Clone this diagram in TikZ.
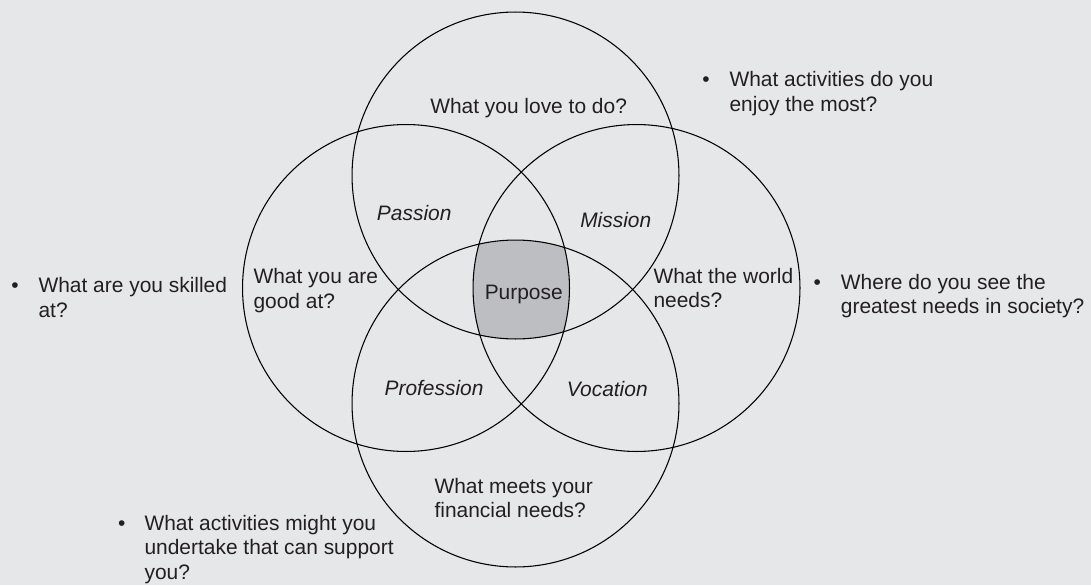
\documentclass[tikz,border=0pt]{standalone}
\usepackage{fontspec}
\setmainfont{Liberation Sans}
\begin{document}
\definecolor{bg}{RGB}{230,231,233}
\definecolor{core}{RGB}{189,190,193}
\definecolor{ink}{RGB}{35,31,32}
\begin{tikzpicture}[x=0.75pt,y=-0.75pt,
  ring/.style={circle,draw=black,line width=0.8pt,minimum size=245.2pt,inner sep=0pt},
  % multi-line labels are anchored on the baseline of their last line
  lbl/.style={anchor=base west,inner sep=0pt,align=left,text=ink,
    font=\fontsize{15.7}{18.3}\selectfont},
  ilbl/.style={lbl,font=\fontsize{15.7}{18.3}\selectfont\itshape},
  bul/.style={anchor=base,inner sep=0pt,text=ink,font=\fontsize{15.7}{18.3}\selectfont}]
  % canvas
  \fill[bg] (0,0) rectangle (1091,585);
  \useasboundingbox (0,0) rectangle (1091,585);

  % centres of the four circles
  \coordinate (cLove)  at (515.5,175.5);
  \coordinate (cGood)  at (406,288);
  \coordinate (cWorld) at (636.5,288);
  \coordinate (cPaid)  at (515.5,403.5);

  % shaded common region of all four circles
  \begin{scope}
    \clip (cLove) circle [radius=122.6pt];
    \clip (cGood) circle [radius=122.6pt];
    \clip (cWorld) circle [radius=122.6pt];
    \fill[core] (cPaid) circle [radius=122.6pt];
  \end{scope}

  % the four circles
  \node[ring] (love)  at (cLove)  {};
  \node[ring] (good)  at (cGood)  {};
  \node[ring] (world) at (cWorld) {};
  \node[ring] (paid)  at (cPaid)  {};

  % circle labels
  \node[lbl] (tLove)  at (430,113.3) {What you love to do?};
  \node[lbl] (tGood)  at (253.3,308.3) {What you are\\good at?};
  \node[lbl] (tWorld) at (653.3,307.8) {What the world\\needs?};
  \node[lbl] (tPaid)  at (434.3,517.5) {What meets your\\financial needs?};

  % overlap labels
  \node[ilbl] (tPassion)    at (376.7,220.7) {Passion};
  \node[ilbl] (tMission)    at (580,227.7) {Mission};
  \node[ilbl] (tProfession) at (384.3,395) {Profession};
  \node[ilbl] (tVocation)   at (566.7,396.7) {Vocation};
  \node[lbl]  (tPurpose)    at (484.5,299.5) {Purpose};

  % questions around the diagram
  \node[bul] (b1) at (706,86.7) {\textbullet};
  \node[lbl] (q1) at (729.3,111.2) {What activities do you\\enjoy the most?};
  \node[bul] (b2) at (817.3,289.3) {\textbullet};
  \node[lbl] (q2) at (840.7,313.8) {Where do you see the\\greatest needs in society?};
  \node[bul] (b3) at (15,292.7) {\textbullet};
  \node[lbl] (q3) at (38.3,317.2) {What are you skilled\\at?};
  \node[bul] (b4) at (121.7,530) {\textbullet};
  \node[lbl] (q4) at (144.3,579.2) {What activities might you\\undertake that can support\\you?};
\end{tikzpicture}
\end{document}
